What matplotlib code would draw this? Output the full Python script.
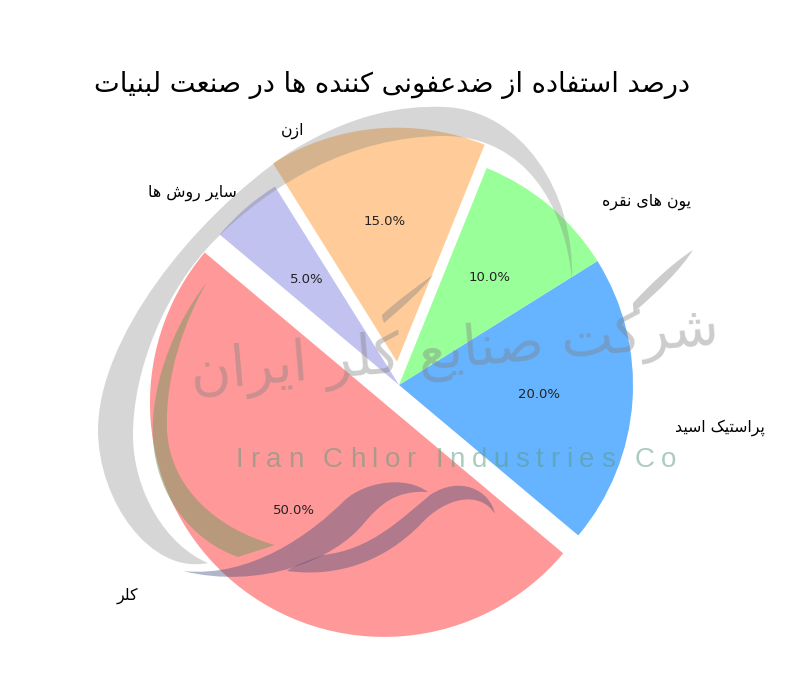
import matplotlib
matplotlib.use('Agg')
import matplotlib.pyplot as plt
from matplotlib.path import Path
from matplotlib.patches import PathPatch

plt.rcParams['font.family'] = ['DejaVu Sans']

# سهم هر روش
labels = ['کلر', 'پراستیک اسید', 'یون های نقره', 'ازن', 'سایر روش ها']
sizes = [50, 20, 10, 15, 5]
colors = ['#ff9999', '#66b3ff', '#99ff99', '#ffcc99', '#c2c2f0']
explode = [0.1, 0, 0, 0.1, 0]
title = 'درصد استفاده از ضدعفونی کننده ها در صنعت لبنیات'
label_pos = [(127, 596), (720, 428), (646, 202), (293, 131), (192, 193)]

# matplotlib does no arabic shaping, so pick the joined forms by hand
# letter: isolated, final, initial, medial
forms = {
    'ا': 'ﺍﺎ', 'د': 'ﺩﺪ', 'ذ': 'ﺫﺬ', 'ر': 'ﺭﺮ', 'ز': 'ﺯﺰ', 'و': 'ﻭﻮ',
    'ب': 'ﺏﺐﺑﺒ', 'پ': 'ﭖﭗﭘﭙ', 'ت': 'ﺕﺖﺗﺘ', 'س': 'ﺱﺲﺳﺴ', 'ش': 'ﺵﺶﺷﺸ',
    'ص': 'ﺹﺺﺻﺼ', 'ض': 'ﺽﺾﺿﻀ', 'ع': 'ﻉﻊﻋﻌ', 'ف': 'ﻑﻒﻓﻔ', 'ق': 'ﻕﻖﻗﻘ',
    'ک': 'ﮎﮏﮐﮑ', 'ل': 'ﻝﻞﻟﻠ', 'ن': 'ﻥﻦﻧﻨ', 'ه': 'ﻩﻪﻫﻬ', 'ی': 'ﯼﯽﯾﯿ',
}


def shape(text):
    out = []
    for i, ch in enumerate(text):
        if ch not in forms:
            out.append(ch)
            continue
        prev = text[i - 1] if i > 0 else ' '
        nxt = text[i + 1] if i < len(text) - 1 else ' '
        before = prev in forms and len(forms[prev]) == 4
        after = len(forms[ch]) == 4 and nxt in forms
        if before and after:
            out.append(forms[ch][3])
        elif before:
            out.append(forms[ch][1])
        elif after:
            out.append(forms[ch][2])
        else:
            out.append(forms[ch][0])
    return ''.join(out)[::-1]


def blob(wm, start, curves, **kw):
    # closed shape from cubic bezier pieces, each piece is (ctrl1, ctrl2, end)
    verts, codes = [start], [Path.MOVETO]
    for c in curves:
        verts += list(c)
        codes += [Path.CURVE4] * 3
    verts.append(start)
    codes.append(Path.CLOSEPOLY)
    wm.add_patch(PathPatch(Path(verts, codes), ec='none', **kw))


fig = plt.figure(figsize=(8, 6.86), dpi=100)
ax = fig.add_axes([0, 0, 1, 1])
wedges, texts, autotexts = ax.pie(sizes, explode=explode, colors=colors, startangle=140,
                                  autopct='%1.1f%%', textprops={'fontsize': 9.5, 'color': '#222222'})
# center of the pie at (399, 385) px, radius 234 px
ax.set_xlim(-399 / 234, (800 - 399) / 234)
ax.set_ylim(-(686 - 385) / 234, 385 / 234)

# logo watermark on top of the pie, pixel coordinates
wm = fig.add_axes([0, 0, 1, 1])
wm.set_xlim(0, 800)
wm.set_ylim(686, 0)
wm.axis('off')

# big grey crescent
blob(wm, (208, 563), [
    ((150, 575), (98, 500), (98, 430)),
    ((98, 340), (190, 220), (290, 152)),
    ((350, 115), (400, 105), (445, 107)),
    ((520, 110), (575, 190), (572, 280)),
    ((565, 205), (525, 137), (445, 136)),
    ((350, 136), (270, 185), (215, 240)),
    ((165, 290), (133, 370), (133, 435)),
    ((133, 490), (165, 545), (208, 563)),
], fc='#7a7a7a', alpha=0.3)

# small crescent over the red slice
blob(wm, (207, 282), [
    ((170, 330), (150, 390), (153, 440)),
    ((157, 495), (190, 540), (238, 557)),
    ((250, 553), (263, 549), (275, 545)),
    ((220, 530), (170, 490), (167, 430)),
    ((165, 375), (185, 320), (207, 282)),
], fc='#8a9a6a', alpha=0.6)

# the two ribbons
blob(wm, (183, 571), [
    ((250, 578), (310, 535), (345, 500)),
    ((365, 482), (405, 475), (428, 492)),
    ((395, 490), (380, 505), (365, 522)),
    ((335, 560), (260, 590), (183, 571)),
], fc='#3a4a7a', alpha=0.4)
blob(wm, (287, 571), [
    ((340, 578), (385, 560), (420, 525)),
    ((445, 497), (480, 490), (495, 514)),
    ((490, 490), (460, 475), (430, 495)),
    ((400, 520), (370, 550), (323, 555)),
    ((310, 560), (295, 565), (287, 571)),
], fc='#3a4a7a', alpha=0.4)

# thin rising strokes of the calligraphy
blob(wm, (693, 250), [
    ((670, 265), (650, 285), (633, 303)),
    ((633, 306), (633, 309), (634, 312)),
    ((660, 290), (680, 270), (693, 250)),
], fc='#808080', alpha=0.4)
blob(wm, (433, 275), [
    ((415, 288), (398, 300), (382, 315)),
    ((382, 318), (383, 320), (384, 323)),
    ((405, 305), (422, 290), (433, 275)),
], fc='#808080', alpha=0.4)

wm.text(455, 352, shape('شرکت صنایع کلر ایران'), fontsize=40, color='#808080', alpha=0.4,
        rotation=5, rotation_mode='anchor', ha='center', va='center')

# letter spaced company name
x = 236
renderer = fig.canvas.get_renderer()
for ch in 'Iran Chlor Industries Co':
    t = wm.text(x, 467, ch, fontsize=20, family='Liberation Sans', color='#5a9a80', alpha=0.5, ha='left', va='baseline')
    x += t.get_window_extent(renderer).width + 6.6 if ch != ' ' else 13

for name, (px, py) in zip(labels, label_pos):
    wm.text(px, py, shape(name), fontsize=11.3, ha='center', va='center')

wm.text(392, 85, shape(title), fontsize=19.6, ha='center', va='center')

fig.savefig('out.png', dpi=100)
